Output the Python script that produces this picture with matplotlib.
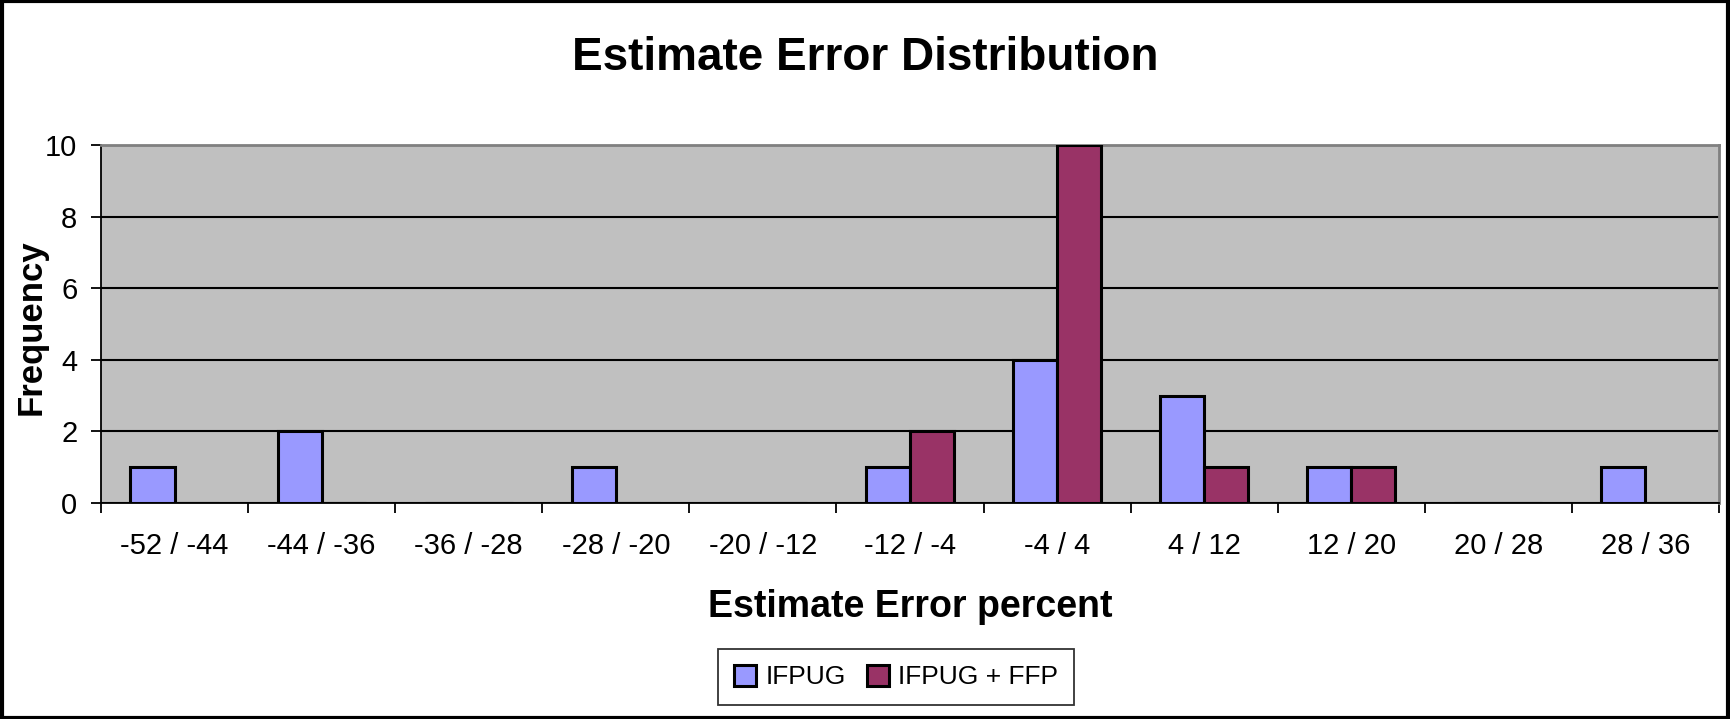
import numpy as np
from matplotlib import pyplot as plt
from matplotlib.patches import Rectangle

plt.rcParams['font.family'] = ['Liberation Sans', 'DejaVu Sans']

categorias = ["-52 / -44", "-44 / -36", "-36 / -28", "-28 / -20", "-20 / -12",
              "-12 / -4", "-4 / 4", "4 / 12", "12 / 20", "20 / 28", "28 / 36"]
ifpug = [1, 2, 0, 1, 0, 1, 4, 3, 1, 0, 1]
ifpug_ffp = [0, 0, 0, 0, 0, 2, 10, 1, 1, 0, 0]
series = ["IFPUG", "IFPUG + FFP"]

W, H = 1731, 719
fig = plt.figure(figsize=(W / 100, H / 100), dpi=100)
ax = fig.add_axes([101 / W, 1 - 503 / H, (1719 - 101) / W, (503 - 145) / H])
ax.set_facecolor("#C0C0C0")

x = np.arange(len(categorias))
ancho = 0.3
ax.bar(x - ancho / 2, ifpug, ancho, color="#9999FF", edgecolor="black",
       linewidth=2.2, label=series[0], zorder=3)
ax.bar(x + ancho / 2, ifpug_ffp, ancho, color="#993366", edgecolor="black",
       linewidth=2.2, label=series[1], zorder=3)

ax.set_xlim(-0.5, len(categorias) - 0.5)
ax.set_ylim(0, 10)
ax.set_yticks(range(0, 11, 2))
ax.yaxis.grid(True, color="black", linewidth=1.5, zorder=1)
ax.set_axisbelow(True)

# ticks de x en los bordes de cada categoria
ax.set_xticks(np.arange(-0.5, len(categorias), 1))
ax.set_xticklabels([])
ax.set_xticks(x, minor=True)
ax.set_xticklabels(categorias, minor=True, fontsize=21)
ax.tick_params(axis="x", which="minor", length=0, pad=21)
ax.tick_params(axis="x", which="major", length=7, width=1.3, direction="out")
ax.tick_params(axis="y", length=7, width=1.3, labelsize=21, pad=10)

for lado in ["top", "right"]:
    ax.spines[lado].set_color("#808080")
    ax.spines[lado].set_linewidth(2)
for lado in ["left", "bottom"]:
    ax.spines[lado].set_color("black")
    ax.spines[lado].set_linewidth(1.3)

ax.set_ylabel("Frequency", fontsize=25, fontweight="bold", va="center")
ax.yaxis.set_label_coords(-0.0433, 0.49)
ax.set_xlabel("Estimate Error percent", fontsize=27, fontweight="bold", va="center")
ax.xaxis.set_label_coords(0.5, -0.29)
fig.text(865 / W, 1 - 58 / H, "Estimate Error Distribution",
         ha="center", va="center", fontsize=33, fontweight="bold")

leg = fig.legend(loc="center", bbox_to_anchor=(896 / W, 1 - 677 / H), ncol=2,
                 fontsize=19, frameon=True, fancybox=False, edgecolor="black",
                 handlelength=0.85, handleheight=0.85, handletextpad=0.35,
                 columnspacing=0.8, borderpad=0.6)
leg.get_frame().set_linewidth(1.3)

# marco negro de la figura
fig.patches.append(Rectangle((0.001, 0.002), 0.997, 0.996, transform=fig.transFigure,
                             fill=False, edgecolor="black", linewidth=3))

fig.savefig("out.png", dpi=100)
